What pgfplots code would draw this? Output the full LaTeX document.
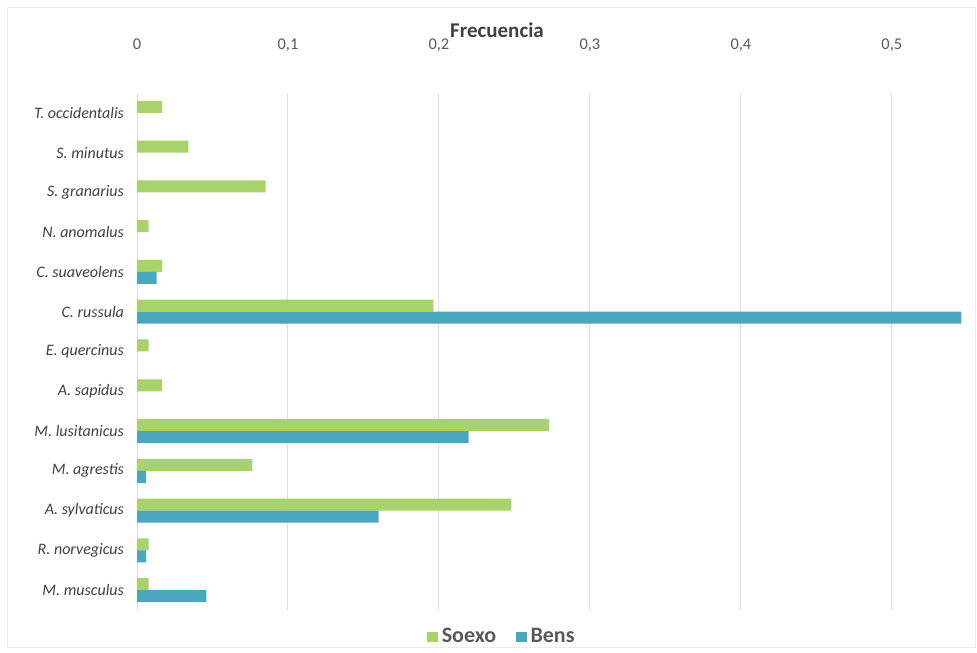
\documentclass[border=0pt]{standalone}
\usepackage{pgfplots}
\pgfplotsset{compat=1.18}
\usepackage{fontspec}
\setmainfont{Carlito}
\definecolor{cgreen}{HTML}{A8D26B}
\definecolor{cblue}{HTML}{4AA7BD}
\definecolor{cgrid}{HTML}{DEDEDE}
\definecolor{ctick}{HTML}{595959}
\definecolor{clab}{HTML}{404040}
\begin{document}
\begin{tikzpicture}
\useasboundingbox (-68.5pt,-21pt) rectangle (420pt,305pt);
\draw[color=black!7] (-65pt,-18.5pt) rectangle (419pt,301.5pt);
\begin{axis}[
  at={(0,0)}, anchor=south west,
  scale only axis, width=412.5pt, height=258.5pt,
  xbar, bar width=6pt,
  xmin=0, xmax=0.5465, ymin=-0.5, ymax=12.5,
  axis line style={draw=none},
  xticklabel pos=right,
  xtick={0,0.1,0.2,0.3,0.4,0.5},
  major tick length=0pt,
  xmajorgrids, grid style={cgrid, line width=0.5pt},
  /pgf/number format/use comma,
  /pgf/number format/assume math mode=true,
  xticklabel style={anchor=base, yshift=21.5pt, font=\fontsize{8.2}{9}\selectfont, text=ctick},
  ytick={0,...,12},
  yticklabels={M. musculus, R. norvegicus, A. sylvaticus, M. agrestis, M. lusitanicus, A. sapidus, E. quercinus, C. russula, C. suaveolens, N. anomalus, S. granarius, S. minutus, T. occidentalis},
  yticklabel style={font=\fontsize{8}{9}\selectfont\itshape, text=clab, xshift=-3pt},
  legend style={at={(0.4436,-0.052)}, anchor=center, draw=none, fill=none,
    legend columns=2, font=\fontsize{11}{13}\selectfont\bfseries, text=ctick,
    /tikz/every even column/.append style={column sep=8pt}},
  legend image code/.code={\fill[#1] (0pt,-2.6pt) rectangle (5.2pt,2.6pt);},
]
\addplot[draw=none, fill=cgreen, bar shift=3pt] coordinates {
(0.0077,0) (0.0077,1) (0.248,2) (0.0765,3) (0.273,4) (0.0167,5) (0.0077,6)
(0.1963,7) (0.0167,8) (0.0077,9) (0.0852,10) (0.034,11) (0.0167,12)};
\addlegendentry{Soexo}
\addplot[draw=none, fill=cblue, bar shift=-3pt] coordinates {
(0.046,0) (0.006,1) (0.16,2) (0.006,3) (0.2197,4) (0.546,7) (0.013,8)};
\addlegendentry{Bens}
\end{axis}
\node[anchor=base, font=\fontsize{10.5}{12}\selectfont\bfseries, text=clab] at (180pt,286pt) {Frecuencia};
\end{tikzpicture}
\end{document}
